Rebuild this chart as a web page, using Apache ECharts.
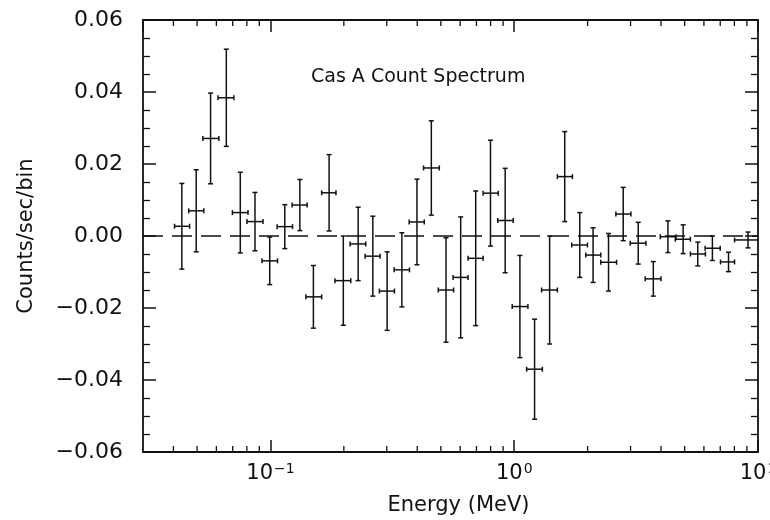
<!DOCTYPE html>
<html>
<head>
<meta charset="utf-8">
<script src="https://cdn.jsdelivr.net/npm/echarts@6/dist/echarts.min.js"></script>
<style>
  html, body { margin: 0; padding: 0; background: #fff; }
  #main { width: 770px; height: 520px; }
</style>
</head>
<body>
<div id="main"></div>
<script>
// bin centres and edges (MeV)
var energy = [0.0433, 0.0496, 0.0568, 0.0659, 0.0752, 0.0864, 0.0993, 0.1145, 0.132, 0.150,
              0.174, 0.199, 0.229, 0.263, 0.301, 0.346, 0.399, 0.457, 0.525, 0.603,
              0.695, 0.799, 0.918, 1.055, 1.212, 1.397, 1.611, 1.857, 2.106, 2.437,
              2.80, 3.226, 3.72, 4.27, 4.93, 5.66, 6.50, 7.57, 9.1];
var energyLo = [0.0404, 0.0462, 0.0528, 0.0609, 0.0698, 0.0801, 0.0923, 0.1065, 0.1227, 0.1397,
                0.1622, 0.1839, 0.2121, 0.2444, 0.2798, 0.3216, 0.3707, 0.4246, 0.4882, 0.561,
                0.6466, 0.7455, 0.856, 0.981, 1.124, 1.295, 1.503, 1.721, 1.965, 2.265,
                2.612, 2.991, 3.447, 3.974, 4.58, 5.281, 6.068, 7.017, 8.013];
var energyHi = [0.0466, 0.0533, 0.0614, 0.0708, 0.0809, 0.0932, 0.1069, 0.1232, 0.1414, 0.1622,
                0.1857, 0.2135, 0.246, 0.2817, 0.3225, 0.3718, 0.4275, 0.4928, 0.5642, 0.6466,
                0.7455, 0.8594, 0.9906, 1.138, 1.304, 1.503, 1.733, 1.997, 2.265, 2.629,
                3.011, 3.47, 4.0, 4.611, 5.281, 6.086, 6.998, 8.013, 10.35];
// counts/sec/bin and 1-sigma errors
var counts = [0.0027, 0.0070, 0.0271, 0.0384, 0.0065, 0.0040, -0.0069, 0.0026, 0.0086, -0.0169,
              0.0120, -0.0124, -0.0022, -0.0056, -0.0153, -0.0094, 0.0039, 0.0189, -0.0150, -0.0115,
              -0.0062, 0.0119, 0.0043, -0.0196, -0.0370, -0.0150, 0.0165, -0.0025, -0.0053, -0.0073,
              0.0061, -0.0020, -0.0119, -0.0002, -0.0009, -0.0050, -0.0034, -0.0072, -0.0011];
var errors = [0.0119, 0.0114, 0.0126, 0.0135, 0.0112, 0.0081, 0.0066, 0.0061, 0.0071, 0.0087,
              0.0106, 0.0124, 0.0102, 0.0111, 0.0109, 0.0103, 0.0119, 0.0131, 0.0145, 0.0168,
              0.0187, 0.0147, 0.0145, 0.0142, 0.0139, 0.0150, 0.0125, 0.0090, 0.0076, 0.0080,
              0.0074, 0.0058, 0.0048, 0.0044, 0.0040, 0.0033, 0.0034, 0.0027, 0.0022];
// log-axis minor tick positions
var minorTicks = [0.04, 0.05, 0.06, 0.07, 0.08, 0.09,
                  0.2, 0.3, 0.4, 0.5, 0.6, 0.7, 0.8, 0.9,
                  2, 3, 4, 5, 6, 7, 8, 9];

var FONT = 'DejaVu Sans';
var INK = '#111';

var myChart = echarts.init(document.getElementById('main'));

var pts = energy.map(function (e, i) {
    return [e, counts[i], errors[i], energyLo[i], energyHi[i]];
});

function errorBar(params, api) {
    var x = api.value(0), y = api.value(1), err = api.value(2);
    var c = api.coord([x, y]);
    var top = api.coord([x, y + err]);
    var bot = api.coord([x, y - err]);
    var lo = api.coord([api.value(3), y]);
    var hi = api.coord([api.value(4), y]);
    var cap = 2.5;
    var st = { stroke: INK, lineWidth: 1.5 };
    var seg = function (x1, y1, x2, y2) {
        return { type: 'line', shape: { x1: x1, y1: y1, x2: x2, y2: y2 }, style: st };
    };
    return {
        type: 'group',
        children: [
            seg(c[0], top[1], c[0], bot[1]),
            seg(c[0] - cap, top[1], c[0] + cap, top[1]),
            seg(c[0] - cap, bot[1], c[0] + cap, bot[1]),
            seg(lo[0], c[1], hi[0], c[1]),
            seg(lo[0], c[1] - cap, lo[0], c[1] + cap),
            seg(hi[0], c[1] - cap, hi[0], c[1] + cap)
        ]
    };
}

function minorTick(params, api) {
    var cs = params.coordSys;
    var x = api.coord([api.value(0), 0])[0];
    var st = { stroke: INK, lineWidth: 1.3 };
    return {
        type: 'group',
        children: [
            { type: 'line', shape: { x1: x, y1: cs.y + cs.height, x2: x, y2: cs.y + cs.height - 6 }, style: st },
            { type: 'line', shape: { x1: x, y1: cs.y, x2: x, y2: cs.y + 6 }, style: st }
        ]
    };
}

function powLabel(v) {
    var p = Math.log(v) / Math.LN10;
    var r = Math.round(p);
    if (Math.abs(p - r) > 1e-6) return '';
    return '{b|10}{s|' + (r < 0 ? '\u2212' : '') + Math.abs(r) + '}';
}

var axisLine = { show: true, onZero: false, lineStyle: { color: INK, width: 1.8 } };

option = {
    backgroundColor: '#fff',
    animation: false,
    title: {
        text: 'Cas A Count Spectrum',
        left: 306,
        top: 63,
        textStyle: { fontFamily: FONT, fontSize: 19, fontWeight: 'normal', color: INK }
    },
    grid: { left: 143, right: 12, top: 20, bottom: 68, outerBoundsMode: 'none', containLabel: false },
    xAxis: [{
        type: 'log',
        logBase: 10,
        min: 0.03,
        max: 10,
        name: 'Energy (MeV)',
        nameLocation: 'middle',
        nameGap: 40,
        nameTextStyle: { fontFamily: FONT, fontSize: 21, color: INK, padding: [0, 0, 0, 16] },
        axisLine: axisLine,
        axisTick: { inside: true, length: 12, lineStyle: { color: INK, width: 1.5 } },
        axisLabel: {
            showMinLabel: false,
            hideOverlap: false,
            margin: 10,
            formatter: powLabel,
            rich: {
                b: { fontFamily: FONT, fontSize: 21, color: INK, verticalAlign: 'bottom', lineHeight: 22 },
                s: { fontFamily: FONT, fontSize: 14, color: INK, verticalAlign: 'top', lineHeight: 14, padding: [0, 0, 14, 1] }
            }
        },
        splitLine: { show: false }
    }, {
        type: 'log',
        logBase: 10,
        min: 0.03,
        max: 10,
        position: 'top',
        axisLine: axisLine,
        axisTick: { inside: true, length: 12, lineStyle: { color: INK, width: 1.5 } },
        axisLabel: { show: false },
        splitLine: { show: false }
    }],
    yAxis: [{
        type: 'value',
        min: -0.06,
        max: 0.06,
        interval: 0.02,
        name: 'Counts/sec/bin',
        nameLocation: 'middle',
        nameGap: 106,
        nameTextStyle: { fontFamily: FONT, fontSize: 21, color: INK },
        axisLine: axisLine,
        axisTick: { inside: true, length: 13, lineStyle: { color: INK, width: 1.5 } },
        minorTick: { show: true, splitNumber: 4, length: 7, lineStyle: { color: INK, width: 1.3 } },
        axisLabel: {
            margin: 20,
            fontFamily: FONT,
            fontSize: 22,
            color: INK,
            formatter: function (v) {
                var s = Math.abs(v) < 1e-9 ? '0.00' : v.toFixed(2);
                return s.replace('-', '\u2212');
            }
        },
        splitLine: { show: false },
        minorSplitLine: { show: false }
    }, {
        type: 'value',
        min: -0.06,
        max: 0.06,
        interval: 0.02,
        position: 'right',
        axisLine: axisLine,
        axisTick: { inside: true, length: 13, lineStyle: { color: INK, width: 1.5 } },
        minorTick: { show: true, splitNumber: 4, length: 7, lineStyle: { color: INK, width: 1.3 } },
        axisLabel: { show: false },
        splitLine: { show: false }
    }],
    series: [{
        type: 'custom',
        name: 'minor ticks',
        silent: true,
        xAxisIndex: 0,
        yAxisIndex: 0,
        renderItem: minorTick,
        encode: { x: 0, y: 1 },
        data: minorTicks.map(function (v) { return [v, 0]; })
    }, {
        type: 'custom',
        name: 'Cas A',
        xAxisIndex: 0,
        yAxisIndex: 0,
        clip: true,
        renderItem: errorBar,
        encode: { x: 0, y: 1 },
        data: pts,
        markLine: {
            silent: true,
            symbol: ['none', 'none'],
            label: { show: false },
            lineStyle: { color: INK, width: 1.5, type: [20, 9] },
            data: [{ yAxis: 0 }]
        }
    }]
};

myChart.setOption(option);
</script>
</body>
</html>
